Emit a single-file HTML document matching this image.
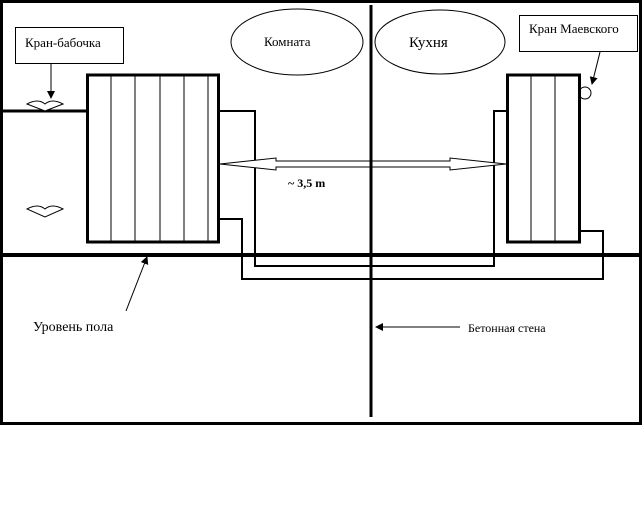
<!DOCTYPE html>
<html><head><meta charset="utf-8"><style>
body{margin:0;background:#fff;}
svg{display:block;}
text{font-family:"Liberation Serif","DejaVu Serif",serif;fill:#000;}
</style></head><body>
<svg width="643" height="512" viewBox="0 0 643 512" xmlns="http://www.w3.org/2000/svg">
<defs>
<marker id="ah" markerWidth="8" markerHeight="8" refX="7" refY="4" orient="auto" markerUnits="userSpaceOnUse">
<path d="M0,0 L8,4 L0,8 z" fill="#000"/></marker>
</defs>
<rect x="1.5" y="1.5" width="639" height="422" fill="none" stroke="#000" stroke-width="3"/>
<!-- floor -->
<line x1="0" y1="255" x2="641" y2="255" stroke="#000" stroke-width="4"/>
<!-- wall -->
<line x1="371" y1="5" x2="371" y2="417" stroke="#000" stroke-width="3"/>
<!-- ellipses -->
<ellipse cx="297" cy="42" rx="66" ry="33" fill="none" stroke="#000" stroke-width="1"/>
<text x="264" y="46" font-size="13">Комната</text>
<ellipse cx="440" cy="42" rx="65" ry="32" fill="none" stroke="#000" stroke-width="1"/>
<text x="409" y="47" font-size="15">Кухня</text>
<!-- label boxes -->
<rect x="15.5" y="27.5" width="108" height="36" fill="#fff" stroke="#000"/>
<text x="25" y="47" font-size="13">Кран-бабочка</text>
<line x1="51" y1="63" x2="51" y2="98" stroke="#000" marker-end="url(#ah)"/>
<rect x="519.5" y="15.5" width="118" height="36" fill="#fff" stroke="#000"/>
<text x="529" y="33" font-size="13">Кран Маевского</text>
<line x1="600" y1="52" x2="592" y2="84" stroke="#000" marker-end="url(#ah)"/>
<circle cx="585" cy="93" r="6" fill="#fff" stroke="#000"/>
<!-- left pipe -->
<line x1="2" y1="111" x2="87" y2="111" stroke="#000" stroke-width="3"/>
<path d="M27,104 Q38,98 45,104 Q52,98 63,104 L45,111 Z" fill="#fff" stroke="#000"/>
<path d="M27,209 Q38,203 45,209 Q52,203 63,209 L45,217 Z" fill="#fff" stroke="#000"/>
<!-- pipes -->
<polyline points="219,111 255,111 255,266 494,266 494,111 507,111" fill="none" stroke="#000" stroke-width="2"/>
<polyline points="219,219 242,219 242,279 603,279 603,231 580,231" fill="none" stroke="#000" stroke-width="2"/>
<!-- left radiator -->
<rect x="87.5" y="75" width="131" height="167" fill="#fff" stroke="#000" stroke-width="3"/>
<g stroke="#000" stroke-width="1">
<line x1="111" y1="76" x2="111" y2="241"/><line x1="135" y1="76" x2="135" y2="241"/>
<line x1="160" y1="76" x2="160" y2="241"/><line x1="184" y1="76" x2="184" y2="241"/>
<line x1="208" y1="76" x2="208" y2="241"/>
</g>
<!-- right radiator -->
<rect x="507.5" y="75" width="72" height="167" fill="#fff" stroke="#000" stroke-width="3"/>
<g stroke="#000" stroke-width="1">
<line x1="531" y1="76" x2="531" y2="241"/><line x1="555" y1="76" x2="555" y2="241"/>
</g>
<!-- double arrow -->
<path d="M220,164 L276,158 L276,161 L450,161 L450,158 L506,164 L450,170 L450,167 L276,167 L276,170 Z" fill="#fff" stroke="#000" stroke-width="1"/>
<line x1="371" y1="155" x2="371" y2="172" stroke="#000" stroke-width="3"/>
<text x="288" y="187" font-size="12" font-weight="bold">~ 3,5 m</text>
<!-- bottom labels -->
<line x1="126" y1="311" x2="147" y2="257" stroke="#000" marker-end="url(#ah)"/>
<text x="33" y="331" font-size="14">Уровень пола</text>
<line x1="460" y1="327" x2="376" y2="327" stroke="#000" marker-end="url(#ah)"/>
<text x="468" y="332" font-size="12">Бетонная стена</text>
</svg>
</body></html>
